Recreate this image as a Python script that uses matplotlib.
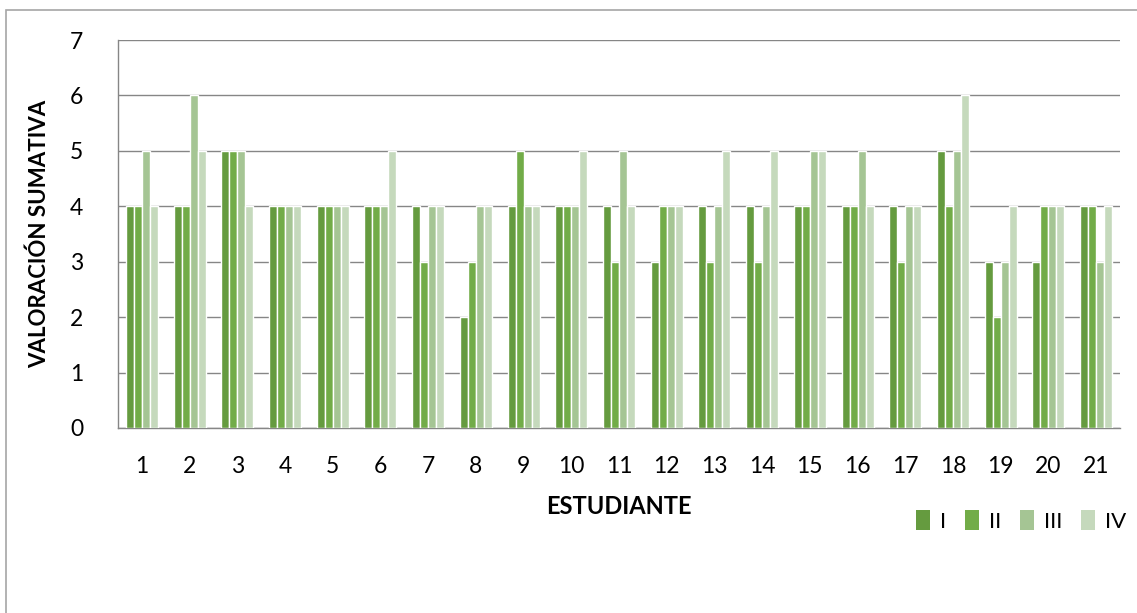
import numpy as np
import matplotlib
matplotlib.use("Agg")
import matplotlib.pyplot as plt
from matplotlib.patches import Rectangle, Patch

plt.rcParams['font.family'] = ['Lato', 'DejaVu Sans']

estudiantes = [str(i) for i in range(1, 22)]
serie_i   = [4, 4, 5, 4, 4, 4, 4, 2, 4, 4, 4, 3, 4, 4, 4, 4, 4, 5, 3, 3, 4]
serie_ii  = [4, 4, 5, 4, 4, 4, 3, 3, 5, 4, 3, 4, 3, 3, 4, 4, 3, 4, 2, 4, 4]
serie_iii = [5, 6, 5, 4, 4, 4, 4, 4, 4, 4, 5, 4, 4, 4, 5, 5, 4, 5, 3, 4, 3]
serie_iv  = [4, 5, 4, 4, 4, 5, 4, 4, 4, 5, 4, 4, 5, 5, 5, 4, 4, 6, 4, 4, 4]
series = [serie_i, serie_ii, serie_iii, serie_iv]
nombres = ['I', 'II', 'III', 'IV']
colores = ['#659B3F', '#72AC48', '#A5C594', '#C5D9BC']

W, H = 1137, 613
fig = plt.figure(figsize=(W / 100, H / 100), dpi=100)
ax = fig.add_axes([118 / W, 1 - 428 / H, (1120 - 118) / W, (428 - 40) / H])

# outer chart frame
fig.add_artist(Rectangle((5.5 / W, -0.05), 1.2, 1 - 9.5 / H + 0.05,
                         transform=fig.transFigure, fill=False,
                         edgecolor='#A6A6A6', linewidth=1.2))

x = np.arange(len(estudiantes))
bw = 0.168
offsets = (np.arange(4) - 1.5) * bw
for vals, nom, col, off in zip(series, nombres, colores, offsets):
    ax.bar(x + off, vals, width=bw, color=col, edgecolor='white',
           linewidth=1.0, label=nom, zorder=3)

ax.set_xlim(-0.5, len(estudiantes) - 0.5)
ax.set_ylim(0, 7)
ax.set_yticks(range(0, 8))
ax.set_xticks(x)
ax.set_xticklabels(estudiantes)
ax.yaxis.grid(True, color='#868686', linewidth=1.0, zorder=0)
ax.set_axisbelow(True)
for s in ['top', 'right']:
    ax.spines[s].set_visible(False)
for s in ['left', 'bottom']:
    ax.spines[s].set_color('#868686')
    ax.spines[s].set_linewidth(1.0)
ax.tick_params(axis='both', length=0, labelsize=16.5, colors='black')
ax.tick_params(axis='y', pad=25)
ax.tick_params(axis='x', pad=20)

ax.set_xlabel('ESTUDIANTE', fontsize=17, fontweight='bold', labelpad=13)
ax.set_ylabel('VALORACIÓN SUMATIVA', fontsize=16, fontweight='bold', labelpad=14)

handles = [Patch(facecolor=c, edgecolor='none', label=n)
           for c, n in zip(colores, nombres)]
leg = ax.legend(handles=handles, loc='center',
                bbox_to_anchor=(1021 / W, 1 - 521 / H),
                bbox_transform=fig.transFigure, ncol=4, frameon=False,
                fontsize=16, handlelength=0.62, handleheight=0.95,
                handletextpad=0.45, columnspacing=0.85, borderpad=0)

fig.savefig('out.png', dpi=100)
